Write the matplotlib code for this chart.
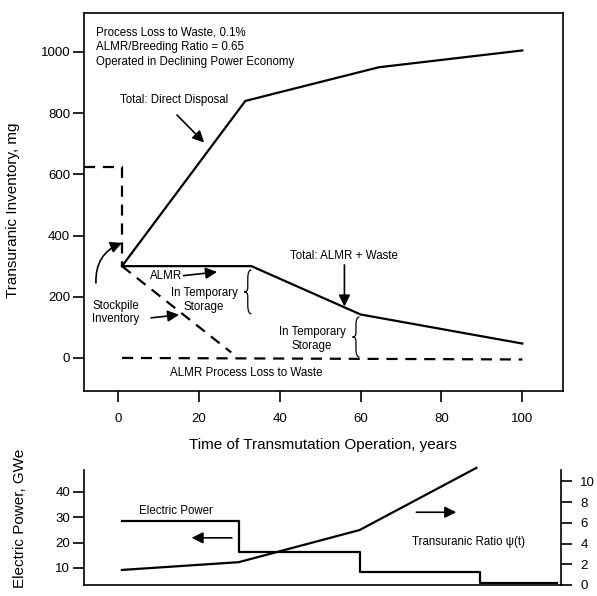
#!/usr/bin/env python3
"""Transuranic inventory under ALMR transmutation, with electric power / TRU ratio panel."""

import matplotlib.pyplot as plt
from matplotlib.path import Path
from matplotlib.patches import PathPatch

plt.rcParams['font.family'] = ['Liberation Sans', 'DejaVu Sans']

# --- top panel: transuranic inventory, mg vs years ---
DIRECT_T = [1, 31.5, 64.5, 100]
DIRECT_INV = [300, 840, 950, 1005]
ALMR_T = [1, 33, 60, 100]
ALMR_INV = [300, 300, 142, 47]
STOCK_T = [-8.4, 1, 1]
STOCK_INV = [625, 625, 300]
STOCK_DRAW_T = [1, 28]
STOCK_DRAW_INV = [300, 18]
LOSS_T = [1, 100]
LOSS_INV = [0, -5]

TOP_XTICKS = [0, 20, 40, 60, 80, 100]
TOP_YTICKS = [0, 200, 400, 600, 800, 1000]

INFO_LINES = ['Process Loss to Waste, 0.1%',
              'ALMR/Breeding Ratio = 0.65',
              'Operated in Declining Power Economy']

# --- bottom panel: electric power (GWe) and transuranic ratio psi(t) ---
POWER_T = [1, 30, 60, 90, 109]
POWER_GWE = [28.5, 16.3, 8.6, 4.2, 4.2]
RATIO_T = [1, 30, 60, 89]
RATIO_PSI = [1.45, 2.2, 5.3, 11.3]

POWER_YTICKS = [10, 20, 30, 40]
RATIO_YTICKS = [0, 2, 4, 6, 8, 10]

XLIM = (-8.4, 110)
LW = 1.6
ARROW = dict(arrowstyle='-|>', color='k', lw=1.2, mutation_scale=17,
             shrinkA=0, shrinkB=0)


def arrow(ax, tail, tip, **kw):
    props = dict(ARROW)
    props.update(kw)
    ax.annotate('', xy=tip, xytext=tail, arrowprops=props)


def brace(ax, x_tip, x_end, y0, y1):
    """Left-pointing curly brace '{' between y0 and y1."""
    ym = (y0 + y1) / 2
    xm = (x_tip + x_end) / 2
    h = y1 - y0
    verts = [(x_end, y1), (xm, y1), (xm, y1 - 0.2 * h),
             (xm, ym + 0.1 * h), (xm, ym), (x_tip, ym),
             (xm, ym), (xm, ym - 0.1 * h),
             (xm, y0 + 0.2 * h), (xm, y0), (x_end, y0)]
    codes = [Path.MOVETO, Path.CURVE3, Path.CURVE3, Path.LINETO,
             Path.CURVE3, Path.CURVE3, Path.CURVE3, Path.CURVE3,
             Path.LINETO, Path.CURVE3, Path.CURVE3]
    ax.add_patch(PathPatch(Path(verts, codes), fc='none', ec='k', lw=0.9))


def plot():
    fig = plt.figure(figsize=(5.97, 5.96), dpi=100)
    ax = fig.add_axes([0.1407, 0.344, 0.802, 0.634])
    axb = fig.add_axes([0.1407, 0.0185, 0.799, 0.193])

    # ---------- top panel ----------
    ax.plot(DIRECT_T, DIRECT_INV, color='k', lw=LW)
    ax.plot(ALMR_T, ALMR_INV, color='k', lw=LW)
    dash = dict(color='k', lw=LW, dashes=(5, 3.5))
    ax.plot(STOCK_T, STOCK_INV, **dash)
    ax.plot(STOCK_DRAW_T, STOCK_DRAW_INV, **dash)
    ax.plot(LOSS_T, LOSS_INV, **dash)

    ax.set_xlim(*XLIM)
    ax.set_ylim(-108, 1127)
    ax.set_xticks(TOP_XTICKS)
    ax.set_yticks(TOP_YTICKS)
    ax.tick_params(axis='both', direction='out', length=8, width=1.2,
                   labelsize=9.5)
    ax.tick_params(axis='x', pad=8)
    ax.tick_params(axis='y', pad=2)
    for s in ax.spines.values():
        s.set_linewidth(1.2)
    ax.set_xlabel('Time of Transmutation Operation, years', fontsize=11,
                  labelpad=9)
    ax.set_ylabel('Transuranic Inventory, mg', fontsize=11)
    ax.yaxis.set_label_coords(-0.134, 0.479)

    fs = 8.3
    for i, line in enumerate(INFO_LINES):
        ax.text(-5.45, 1062 - i * 47, line, fontsize=fs, va='center')

    ax.text(13.9, 843, 'Total: Direct Disposal', fontsize=fs,
            ha='center', va='center')
    arrow(ax, (14.6, 794), (21.3, 704))

    ax.text(56, 333, 'Total: ALMR + Waste', fontsize=fs,
            ha='center', va='center')
    arrow(ax, (56, 304), (56, 168))

    ax.text(11.9, 268, 'ALMR', fontsize=fs, ha='center', va='center')
    arrow(ax, (16.2, 269), (24.5, 281))

    ax.text(21.3, 212, 'In Temporary', fontsize=fs, ha='center', va='center')
    ax.text(21.3, 167, 'Storage', fontsize=fs, ha='center', va='center')
    brace(ax, 31.2, 33.0, 144, 288)

    ax.text(48, 85, 'In Temporary', fontsize=fs, ha='center', va='center')
    ax.text(48, 39, 'Storage', fontsize=fs, ha='center', va='center')
    brace(ax, 58.0, 59.7, 3, 134)

    ax.text(-0.5, 170, 'Stockpile', fontsize=fs, ha='center', va='center')
    ax.text(-0.5, 127, 'Inventory', fontsize=fs, ha='center', va='center')
    arrow(ax, (8.2, 131), (15.1, 141))
    arrow(ax, (-5.45, 245), (1.0, 376), connectionstyle='arc3,rad=-0.35')

    ax.text(31.7, -49, 'ALMR Process Loss to Waste', fontsize=fs,
            ha='center', va='center')

    # ---------- bottom panel ----------
    axb.step(POWER_T, POWER_GWE, where='post', color='k', lw=LW)
    axb.set_xlim(*XLIM)
    axb.set_ylim(3.3, 48.7)
    axb.set_yticks(POWER_YTICKS)
    axb.set_xticks([])
    axb.spines['top'].set_visible(False)
    axb.spines['right'].set_visible(False)
    for s in ('left', 'bottom'):
        axb.spines[s].set_linewidth(1.2)
    axb.tick_params(axis='y', direction='out', length=8, width=1.2,
                    labelsize=9.5, pad=2)
    axb.set_ylabel('Electric Power, GWe', fontsize=11)
    axb.yaxis.set_label_coords(-0.1195, 0.58)

    axr = axb.twinx()
    axr.plot(RATIO_T, RATIO_PSI, color='k', lw=LW, clip_on=False)
    axr.set_ylim(0, 11.1)
    axr.set_yticks(RATIO_YTICKS)
    for s in ('top', 'left', 'bottom'):
        axr.spines[s].set_visible(False)
    axr.spines['right'].set_linewidth(1.2)
    axr.tick_params(axis='y', direction='out', length=8, width=1.2,
                    labelsize=9.5, pad=6)

    axb.text(5.2, 32.5, 'Electric Power', fontsize=fs, va='center')
    arrow(axb, (28.3, 21.9), (18.3, 21.9))
    axb.text(72.9, 20.3, 'Transuranic Ratio \u03c8(t)', fontsize=fs,
             va='center')
    arrow(axb, (74.1, 32), (84, 32))

    fig.savefig('out.png', dpi=100)


if __name__ == '__main__':
    plot()
